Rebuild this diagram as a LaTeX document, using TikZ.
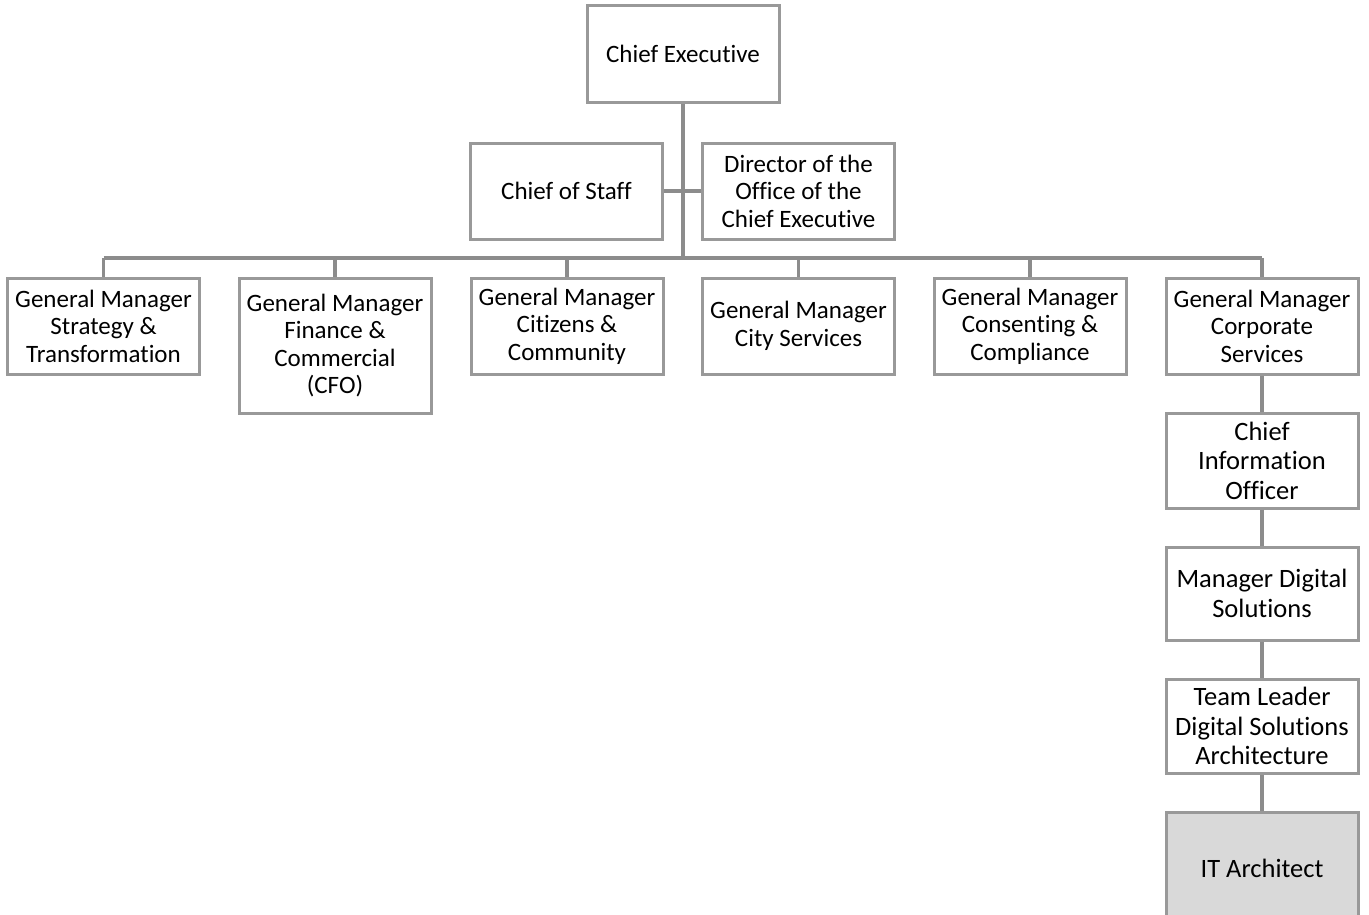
\documentclass[tikz,border=0pt]{standalone}
\usepackage{fontspec}
\setmainfont{Carlito}[Ligatures=NoCommon]
\definecolor{boxgray}{HTML}{999999}
\definecolor{linkgray}{HTML}{8C8C8C}
\definecolor{focusfill}{HTML}{D9D9D9}
\begin{document}
\begin{tikzpicture}[x=1pt,y=-1pt,
  role/.style={draw=boxgray, line width=3.0, fill=white, inner sep=0,
    minimum width=192, minimum height=96, align=center,
    font=\fontsize{25}{27.5}\selectfont},
  chain/.style={role, font=\fontsize{26.5}{29.5}\selectfont},
  link/.style={draw=linkgray, line width=3.4}]
\useasboundingbox (0,0) rectangle (1369,914);
\clip (0,0) rectangle (1369,914);

% top of the hierarchy
\node[role, minimum height=97] (ce) at (683,53.5) {Chief Executive};
\node[role] (cos) at (566.5,191) {Chief of Staff};
\node[role] (doc) at (798.5,191) {Director of the\\Office of the\\Chief Executive};

% general managers
\node[role] (gm1) at (103.5,326) {General Manager\\Strategy \&\\Transformation};
\node[role, minimum height=135] (gm2) at (335,345.5) {General Manager\\Finance \&\\Commercial\\(CFO)};
\node[role] (gm3) at (567,326) {General Manager\\Citizens \&\\Community};
\node[role] (gm4) at (798.5,326) {General Manager\\City Services};
\node[role] (gm5) at (1030,326) {General Manager\\Consenting \&\\Compliance};
\node[role] (gm6) at (1262,326) {General Manager\\Corporate\\Services};

% reporting line below Corporate Services
\node[chain, minimum height=95] (cio) at (1262,460.5) {Chief\\Information\\Officer};
\node[chain, minimum height=93] (mds) at (1262,593.5) {Manager Digital\\Solutions};
\node[chain, minimum height=94] (tl) at (1262,726) {Team Leader\\Digital Solutions\\Architecture};
\node[chain, fill=focusfill, minimum height=112] (ita) at (1262,868) {IT Architect};

% connectors
\coordinate (bus) at (683,258);
\draw[link] (ce.south) -- (ce.south |- bus);
\draw[link] (cos.east) -- (doc.west);
\draw[link] (gm1.north |- bus) -- (gm6.north |- bus);
\foreach \g in {gm1,gm2,gm3,gm4,gm5,gm6}
  \draw[link] (\g.north) -- (\g.north |- bus);
\draw[link] (gm6.south) -- (cio.north);
\draw[link] (cio.south) -- (mds.north);
\draw[link] (mds.south) -- (tl.north);
\draw[link] (tl.south) -- (ita.north);
\end{tikzpicture}
\end{document}
